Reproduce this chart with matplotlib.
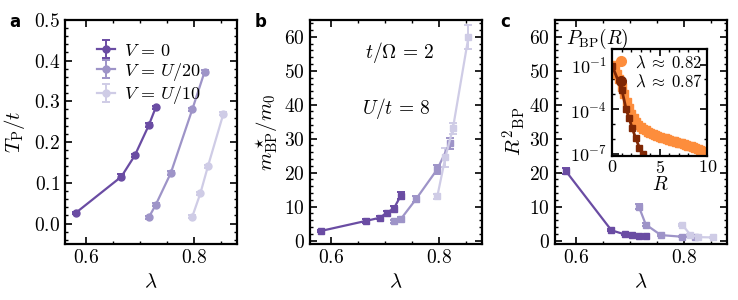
import matplotlib
matplotlib.use("Agg")
import matplotlib.pyplot as plt
import numpy as np
from matplotlib.lines import Line2D
from matplotlib.ticker import MultipleLocator, FixedLocator, NullFormatter

plt.rcParams['font.family'] = 'serif'
plt.rcParams['font.serif'] = ['cmr10']
plt.rcParams['mathtext.fontset'] = 'cm'
plt.rcParams['axes.formatter.use_mathtext'] = True
plt.rcParams['font.size'] = 14

# colours for V = 0, U/20, U/10
colors = ['#6a4ca3', '#9e94c8', '#cfcce6']
labels = [r'$V\,=\,0$', r'$V\,=\,U/20$', r'$V\,=\,U/10$']

# panel a : T_P / t
lam_a = [[0.58, 0.665, 0.69, 0.716, 0.729],
         [0.716, 0.729, 0.757, 0.797, 0.82],
         [0.797, 0.812, 0.826, 0.855]]
tp = [[0.026, 0.115, 0.167, 0.241, 0.285],
      [0.015, 0.046, 0.124, 0.280, 0.373],
      [0.017, 0.074, 0.140, 0.270]]
tp_err = [[0.003, 0.006, 0.004, 0.005, 0.004],
          [0.004, 0.004, 0.004, 0.003, 0.003],
          [0.003, 0.003, 0.003, 0.003]]

# panels b, c
lam_bc = [[0.58, 0.665, 0.69, 0.703, 0.716, 0.729],
          [0.716, 0.729, 0.757, 0.797, 0.82],
          [0.797, 0.812, 0.826, 0.855]]
mass = [[2.8, 5.8, 6.7, 8.2, 9.4, 13.2],
        [5.7, 6.3, 12.1, 21.0, 28.6],
        [13.0, 24.5, 33.0, 60.0]]
mass_err = [[0.3, 0.5, 0.5, 0.6, 0.7, 1.0],
            [0.4, 0.5, 0.9, 1.3, 1.6],
            [0.8, 2.8, 1.5, 3.5]]
r2 = [[20.5, 3.0, 1.8, 1.5, 1.3, 1.2],
      [10.0, 4.7, 1.6, 1.1, 0.9],
      [4.6, 1.7, 1.0, 0.9]]
r2_err = [[1.0, 0.3, 0.2, 0.2, 0.2, 0.2],
          [0.8, 0.4, 0.2, 0.1, 0.1],
          [0.4, 0.2, 0.1, 0.1]]

# inset: P_BP(R), log10 values
R_082 = [0.0, 0.25, 0.5, 0.75, 1.0, 1.25, 1.5, 1.75, 2.0, 2.25, 2.5, 2.75, 3.0,
         3.25, 3.5, 3.75, 4.0, 4.25, 4.5, 4.75, 5.0, 5.25, 5.5, 5.75, 6.0, 6.25,
         6.5, 6.75, 7.0, 7.25, 7.5, 7.75, 8.0, 8.25, 8.5, 8.75, 9.0, 9.25, 9.5,
         9.75, 10.0]
logP_082 = [-1.0, -1.2, -1.6, -2.0, -2.5, -3.0, -3.5, -3.95, -4.3, -4.6, -4.85,
            -5.05, -5.2, -5.33, -5.43, -5.52, -5.6, -5.67, -5.74, -5.8, -5.86,
            -5.92, -5.98, -6.03, -6.08, -6.13, -6.18, -6.23, -6.28, -6.32, -6.36,
            -6.41, -6.46, -6.51, -6.56, -6.62, -6.69, -6.76, -6.84, -6.92, -7.0]
R_087 = [0.0, 1.0, 1.45, 1.75, 2.1, 2.45, 2.85, 3.2, 3.5]
logP_087 = [-1.1, -2.7, -4.0, -4.6, -5.3, -5.95, -6.6, -7.0, -7.4]


def style(ax):
    ax.tick_params(which='both', direction='in', top=True, right=True)
    ax.tick_params(which='major', length=5, width=1.2)
    ax.tick_params(which='minor', length=2.5, width=1)
    for s in ax.spines.values():
        s.set_linewidth(1.6)


fig = plt.figure(figsize=(7.38, 3.0), dpi=100)
w, h, b = 0.233, 0.747, 0.187
ax_a = fig.add_axes([0.088, b, w, h])
ax_b = fig.add_axes([0.420, b, w, h])
ax_c = fig.add_axes([0.752, b, w, h])

kw = dict(lw=1.6, ms=5, capsize=3, capthick=1.4, elinewidth=1.4)

for i in range(3):
    ax_a.errorbar(lam_a[i], tp[i], yerr=tp_err[i], color=colors[i], marker='o',
                  label=labels[i], **kw)
    ax_b.errorbar(lam_bc[i], mass[i], yerr=mass_err[i], color=colors[i], marker='s', **kw)
    ax_c.errorbar(lam_bc[i], r2[i], yerr=r2_err[i], color=colors[i], marker='s', **kw)

ax_a.set_ylim(-0.05, 0.5)
ax_a.yaxis.set_major_locator(MultipleLocator(0.1))
ax_a.yaxis.set_minor_locator(MultipleLocator(0.02))
ax_a.set_ylabel(r'$T_{\rm P}/t$', labelpad=5, fontsize=15)
ax_a.legend(loc='upper left', bbox_to_anchor=(0.09, 0.97), frameon=False,
            handlelength=1.0, handletextpad=0.5, labelspacing=0.1, fontsize=13)

for ax in (ax_b, ax_c):
    ax.set_ylim(-1, 65)
    ax.yaxis.set_major_locator(MultipleLocator(10))
    ax.yaxis.set_minor_locator(MultipleLocator(2))

ax_b.set_ylabel(r'$m^\star_{\rm BP}/m_0$', labelpad=3, fontsize=15)
ax_c.set_ylabel(r'$R^2{}_{\rm BP}$', labelpad=1, fontsize=15)
ax_b.text(0.52, 0.855, r'$t/\Omega\,=\,2$', transform=ax_b.transAxes, ha='center', va='center', fontsize=14)
ax_b.text(0.5, 0.605, r'$U/t\,=\,8$', transform=ax_b.transAxes, ha='center', va='center', fontsize=14)
ax_c.text(0.065, 0.915, r'$P_{\rm BP}(R)$', transform=ax_c.transAxes, ha='left', va='center', fontsize=14)

for ax, lab in zip((ax_a, ax_b, ax_c), 'abc'):
    ax.set_xlim(0.56, 0.88)
    ax.xaxis.set_major_locator(MultipleLocator(0.2))
    ax.xaxis.set_minor_locator(MultipleLocator(0.05))
    ax.set_xlabel(r'$\lambda$', labelpad=4, fontsize=15)
    style(ax)
    ax.text(-0.29, 0.99, lab, transform=ax.transAxes, ha='center', va='center',
            fontsize=12, fontweight='bold', family='DejaVu Sans')

# inset
ins = fig.add_axes([0.8297, 0.48, 0.1287, 0.356])
ins.semilogy(R_082, 10 ** np.array(logP_082), color='#fd8d3c', marker='s', ms=6, lw=2)
ins.semilogy(R_087, 10 ** np.array(logP_087), color='#7f2704', marker='s', ms=4.5, lw=2)
ins.set_xlim(0, 10)
ins.set_ylim(6.8e-8, 1.1)
ins.yaxis.set_major_locator(FixedLocator([1e-7, 1e-4, 1e-1]))
ins.yaxis.set_minor_locator(FixedLocator([1e-6, 1e-5, 1e-3, 1e-2]))
ins.yaxis.set_minor_formatter(NullFormatter())
ins.xaxis.set_major_locator(MultipleLocator(5))
ins.xaxis.set_minor_locator(MultipleLocator(1))
ins.set_xlabel(r'$R$', labelpad=0, fontsize=14)
style(ins)
ins.tick_params(which='major', labelsize=13)
ins.tick_params(axis='x', which='major', pad=2)
ins.tick_params(axis='y', which='major', pad=4)
handles = [Line2D([], [], color='#fd8d3c', marker='o', ls='none', ms=7),
           Line2D([], [], color='#7f2704', marker='o', ls='none', ms=7)]
ins.legend(handles, [r'$\lambda\;\approx\;0.82$', r'$\lambda\;\approx\;0.87$'], loc='upper left',
           bbox_to_anchor=(0.0, 0.98), frameon=False, handlelength=0.8,
           handletextpad=0.4, labelspacing=0.2, borderaxespad=0.0, borderpad=0.15, fontsize=12)

fig.savefig('out.png', dpi=100)
